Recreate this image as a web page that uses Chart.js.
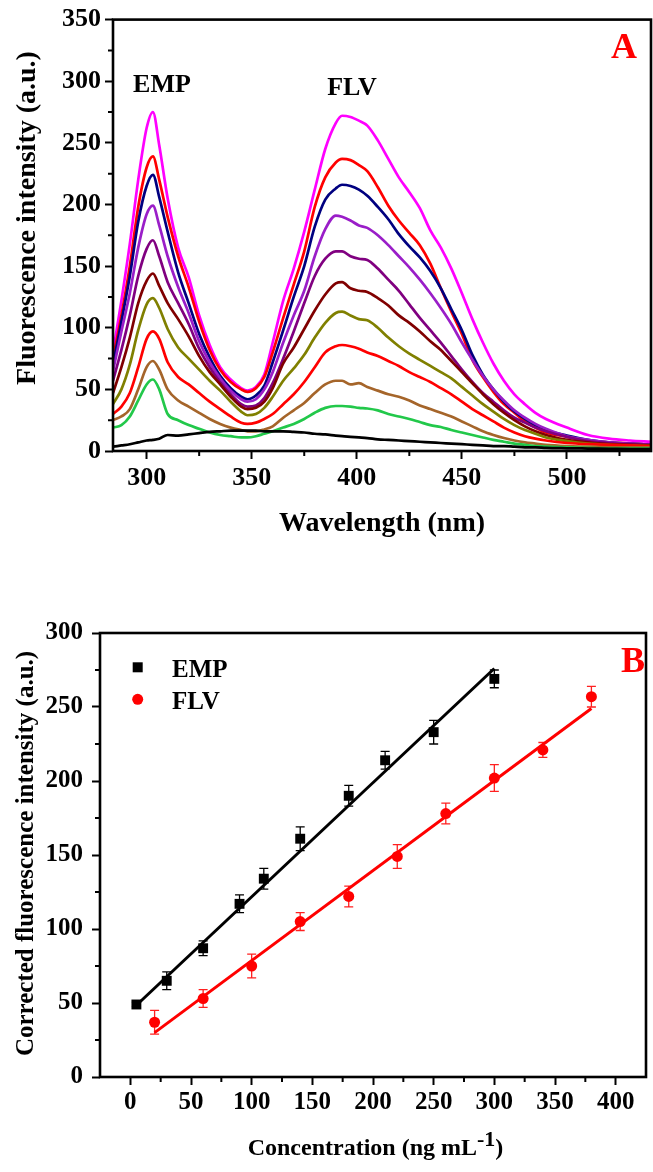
<!DOCTYPE html>
<html lang="en">
<head>
<meta charset="utf-8">
<title>EMP / FLV fluorescence</title>
<script src="https://cdn.jsdelivr.net/npm/chart.js@4.4.1/dist/chart.umd.min.js"></script>
<style>
  html, body { margin: 0; padding: 0; background: #ffffff; }
  body { position: relative; width: 653px; height: 1172px; overflow: hidden; }
  canvas { position: absolute; left: 0; }
  #spectraChart { top: 0; }
  #calibChart { top: 585px; }
</style>
</head>
<body>
<canvas id="spectraChart" width="653" height="560"></canvas>
<canvas id="calibChart" width="653" height="587"></canvas>
<script>
// ---- panel A: emission spectra ----
const wavelengths = [284, 288, 292, 296, 300, 303, 306, 310, 315, 320, 325, 330, 335, 340, 345, 348, 352, 356, 360, 365, 370, 375, 380, 385, 390, 393, 397, 401, 405, 410, 415, 420, 425, 430, 435, 440, 445, 450, 455, 460, 465, 470, 475, 480, 485, 490, 500, 510, 520, 530, 540];

const spectrumBlank = [3.5, 4.5, 5.5, 7, 8.5, 9, 10, 13, 12.5, 13.5, 14.5, 15.5, 16, 16.5, 16.5, 16.5, 16.5, 16, 16, 16, 15.5, 15, 14, 13.5, 12.5, 12, 11.5, 11, 10.5, 9.5, 9, 8.5, 8, 7.5, 7, 6.5, 6, 5.5, 5, 4.5, 4, 4, 3.5, 3, 3, 2.5, 2.2, 2, 1.8, 1.6, 1.5];
const spectrum1 = [19, 21, 28, 41, 54, 58, 50, 30, 25, 21, 18, 15, 13, 12, 11, 11, 12, 14, 16, 19, 22, 26, 31, 35, 36.5, 36.5, 36, 35, 34.5, 33, 30, 28, 26, 23.5, 21, 19.5, 17, 15, 13, 11, 9, 7.5, 6, 5, 4, 3.5, 3, 2.5, 2, 2, 2];
const spectrum2 = [25, 28, 34, 50, 68, 73, 66, 50, 41, 36, 31, 26, 22, 19, 17, 16, 16, 17.5, 20, 27, 33, 39, 47, 54, 57, 57, 54, 55, 52, 49, 46, 44, 41, 37, 34, 31, 28, 24, 20, 16, 13, 10.5, 8.5, 7, 6, 5, 4, 3.5, 3, 3, 3];
const spectrum3 = [30, 36, 47, 68, 91, 97, 91, 72, 60, 54, 47, 40, 34, 28, 23, 22, 23, 26, 30, 38, 46, 56, 68, 80, 85, 86, 85, 83, 80, 77, 73, 69, 64, 60, 56, 51, 46, 40, 34, 29, 24, 19, 15, 12, 10, 8.5, 6.5, 5.5, 5, 4.5, 4];
const spectrum4 = [38, 50, 70, 98, 119, 124, 116, 99, 84, 75, 66, 57, 49, 40, 32, 29, 30, 35, 44, 57, 67, 78, 92, 104, 112, 113, 110, 107, 106, 100, 92, 85, 79, 74, 69, 64, 59, 52, 45, 38, 32, 26, 21, 17, 14, 11, 8, 6, 5, 4.5, 4];
const spectrum5 = [47, 68, 92, 120, 138, 144, 134, 120, 107, 93, 77, 64, 54, 44, 36, 34, 35, 40, 51, 71, 84, 99, 114, 127, 136, 137, 132, 130, 129, 124, 118, 110, 104, 97, 89, 82, 73, 64, 55, 46, 38, 31, 25, 20, 16, 13, 9, 7, 5.5, 5, 4.5];
const spectrum6 = [57, 82, 110, 142, 164, 171, 158, 137, 120, 103, 83, 68, 56, 46, 38, 36, 37, 43, 55, 75, 97, 120, 142, 156, 162, 162, 158, 156, 155, 148, 139, 130, 119, 108, 98, 88, 77, 66, 56, 47, 40, 33, 27, 23, 19, 16, 11.5, 8, 6.5, 5.5, 5];
const spectrum7 = [65, 97, 128, 165, 192, 199, 183, 158, 133, 112, 89, 72, 59, 49, 42, 40, 42, 50, 64, 88, 110, 130, 158, 180, 191, 190, 187, 183, 181, 175, 167, 158, 149, 139, 128, 116, 103, 88, 74, 61, 50, 41, 33, 27, 22, 18, 12, 9, 7, 6, 5];
const spectrum8 = [70, 105, 142, 186, 215, 224, 206, 178, 145, 120, 95, 76, 61, 51, 44, 42, 45, 53, 72, 98, 125, 150, 182, 204, 213, 216, 215, 212, 207, 198, 188, 176, 166, 157, 146, 132, 115, 98, 78, 62, 50, 40, 32, 26, 21, 17, 12.5, 9, 7, 6, 5];
const spectrum9 = [75, 110, 150, 198, 230, 239, 220, 190, 158, 133, 105, 82, 66, 56, 50, 48, 51, 60, 80, 108, 135, 162, 198, 222, 234, 237, 236, 232, 227, 214, 199, 187, 177, 167, 152, 132, 113, 95, 74, 60, 48, 38, 31, 24, 19, 15, 11.5, 8.5, 7, 6, 5];
const spectrum10 = [80, 122, 168, 220, 262, 275, 248, 205, 165, 141, 110, 86, 68, 58, 51, 49, 52, 62, 88, 122, 148, 178, 212, 245, 266, 272, 271, 268, 264, 252, 237, 222, 210, 197, 179, 165, 148, 128, 107, 88, 71, 57, 46, 38, 31, 26, 19, 13, 10, 8.5, 7.5];

const spectra = [spectrumBlank, spectrum1, spectrum2, spectrum3, spectrum4, spectrum5, spectrum6, spectrum7, spectrum8, spectrum9, spectrum10];
const spectraColors = ["#000000", "#22c84a", "#a5652a", "#ff0000", "#808000", "#800000", "#800080", "#9a1ec8", "#000080", "#ff0000", "#ff00ff"];

const waveTicks = [300, 325, 350, 375, 400, 425, 450, 475, 500, 525];
const intensityTicks = [0, 25, 50, 75, 100, 125, 150, 175, 200, 225, 250, 275, 300, 325, 350];

// ---- panel B: calibration ----
const empConc = [5, 30, 60, 90, 110, 140, 180, 210, 250, 300];
const empSignal = [49, 65, 87, 117, 134, 161, 190, 214, 233, 269];
const empError = [1.5, 6, 5, 6, 7, 8, 7, 6, 8, 6];
const flvConc = [20, 60, 100, 140, 180, 220, 260, 300, 340, 380];
const flvSignal = [37, 53, 75, 105, 122, 149, 178, 202, 221, 257];
const flvError = [8, 6, 8, 6, 7, 8, 7, 9, 5, 7];
const empFitConc = [5, 300];
const empFitSignal = [48.5, 276];
const flvFitConc = [20, 380];
const flvFitSignal = [30, 249];

const concTicks = [0, 25, 50, 75, 100, 125, 150, 175, 200, 225, 250, 275, 300, 325, 350, 375, 400];
const signalTicks = [0, 25, 50, 75, 100, 125, 150, 175, 200, 225, 250, 275, 300];

const serif = "'Liberation Serif', 'Times New Roman', Times, serif";

function pairs(xs, ys) {
  return xs.map((x, i) => ({ x, y: ys[i] }));
}

function buildAxis(min, max, tickValues, fontSize, pad, afterFit) {
  return {
    type: "linear",
    min,
    max,
    afterBuildTicks: (scale) => {
      scale.ticks = tickValues.map((value) => ({ value }));
    },
    afterFit,
    border: { display: false },
    grid: {
      drawOnChartArea: false,
      tickLength: 8,
      tickWidth: 2,
      tickColor: (ctx) => (ctx.tick && ctx.tick.value % 50 === 0 ? "#000" : "rgba(0,0,0,0)"),
    },
    ticks: {
      autoSkip: false,
      maxRotation: 0,
      padding: pad,
      color: "#000",
      font: { family: serif, size: fontSize, weight: "bold" },
      callback: (value) => (value % 50 === 0 ? value : ""),
    },
  };
}

function drawText(ctx, text, x, y, size, color, align) {
  ctx.font = `bold ${size}px ${serif}`;
  ctx.fillStyle = color || "#000";
  ctx.textAlign = align || "center";
  ctx.textBaseline = "alphabetic";
  ctx.fillText(text, x, y);
}

function drawRotated(ctx, text, x, y, size) {
  ctx.save();
  ctx.translate(x, y);
  ctx.rotate(-Math.PI / 2);
  drawText(ctx, text, 0, 0, size);
  ctx.restore();
}

// minor ticks (shorter) plus the closed frame
const frameTicks = {
  id: "frameTicks",
  afterDraw(chart) {
    const { ctx, chartArea: area, scales } = chart;
    ctx.save();
    ctx.strokeStyle = "#000";
    ctx.lineWidth = 2;
    ctx.beginPath();
    scales.x.ticks.forEach((t) => {
      if (t.value % 50 === 0) return;
      const px = scales.x.getPixelForValue(t.value);
      ctx.moveTo(px, area.bottom);
      ctx.lineTo(px, area.bottom + 5);
    });
    scales.y.ticks.forEach((t) => {
      if (t.value % 50 === 0) return;
      const py = scales.y.getPixelForValue(t.value);
      ctx.moveTo(area.left - 5, py);
      ctx.lineTo(area.left, py);
    });
    ctx.stroke();
    ctx.lineWidth = 2.6;
    ctx.strokeRect(area.left, area.top, area.right - area.left, area.bottom - area.top);
    ctx.restore();
  },
};

const spectraText = {
  id: "spectraText",
  afterDraw(chart) {
    const ctx = chart.ctx;
    ctx.save();
    drawText(ctx, "EMP", 162, 92, 26);
    drawText(ctx, "FLV", 352, 95, 26);
    drawText(ctx, "A", 624, 58, 36, "#ff0000");
    drawText(ctx, "Wavelength (nm)", 382, 531, 28);
    drawRotated(ctx, "Fluorescence intensity (a.u.)", 35, 218, 28);
    ctx.restore();
  },
};

function drawErrorBars(chart, xs, ys, errs, color) {
  const { ctx, scales } = chart;
  ctx.save();
  ctx.strokeStyle = color;
  ctx.lineWidth = 1.3;
  ctx.beginPath();
  xs.forEach((x, i) => {
    const px = scales.x.getPixelForValue(x);
    const top = scales.y.getPixelForValue(ys[i] + errs[i]);
    const bottom = scales.y.getPixelForValue(ys[i] - errs[i]);
    ctx.moveTo(px, top);
    ctx.lineTo(px, bottom);
    ctx.moveTo(px - 4.5, top);
    ctx.lineTo(px + 4.5, top);
    ctx.moveTo(px - 4.5, bottom);
    ctx.lineTo(px + 4.5, bottom);
  });
  ctx.stroke();
  ctx.restore();
}

const calibExtras = {
  id: "calibExtras",
  beforeDatasetsDraw(chart) {
    drawErrorBars(chart, empConc, empSignal, empError, "#000000");
    drawErrorBars(chart, flvConc, flvSignal, flvError, "#ff2020");
  },
  afterDraw(chart) {
    const ctx = chart.ctx;
    ctx.save();
    // legend
    ctx.fillStyle = "#000";
    ctx.fillRect(132.7, 77.3, 10, 10);
    ctx.fillStyle = "#ff0000";
    ctx.beginPath();
    ctx.arc(137.7, 114.3, 5.5, 0, Math.PI * 2);
    ctx.fill();
    drawText(ctx, "EMP", 172, 92, 25, "#000", "left");
    drawText(ctx, "FLV", 172, 124, 25, "#000", "left");
    drawText(ctx, "B", 633, 86.7, 36, "#ff0000");
    // axis titles
    drawRotated(ctx, "Corrected fluorescence intensity (a.u.)", 33, 268.5, 25);
    ctx.font = `bold 24px ${serif}`;
    const main = "Concentration (ng mL";
    const mainW = ctx.measureText(main).width;
    const closeW = ctx.measureText(")").width;
    ctx.font = `bold 22px ${serif}`;
    const supW = ctx.measureText("-1").width;
    let x = 375.5 - (mainW + supW + closeW) / 2;
    drawText(ctx, main, x, 570, 24, "#000", "left");
    x += mainW;
    drawText(ctx, "-1", x, 561, 22, "#000", "left");
    x += supW;
    drawText(ctx, ")", x, 570, 24, "#000", "left");
    ctx.restore();
  },
};

new Chart(document.getElementById("spectraChart"), {
  type: "line",
  data: {
    datasets: spectra.map((values, i) => ({
      data: pairs(wavelengths, values),
      borderColor: spectraColors[i],
      borderWidth: 2.7,
      pointRadius: 0,
      fill: false,
      cubicInterpolationMode: "monotone",
    })),
  },
  options: {
    responsive: false,
    animation: false,
    layout: { padding: { top: 19, right: 2, left: 0, bottom: 0 } },
    plugins: { legend: { display: false }, tooltip: { enabled: false } },
    scales: {
      x: buildAxis(284, 540, waveTicks, 26, 4, (s) => { s.height = 109; }),
      y: buildAxis(0, 350, intensityTicks, 26, 4, (s) => { s.width = 113; }),
    },
  },
  plugins: [frameTicks, spectraText],
});

new Chart(document.getElementById("calibChart"), {
  type: "scatter",
  data: {
    datasets: [
      {
        label: "EMP",
        data: pairs(empConc, empSignal),
        pointStyle: "rect",
        pointRadius: 7,
        backgroundColor: "#000000",
        borderColor: "#000000",
        borderWidth: 0,
        order: 0,
      },
      {
        label: "FLV",
        data: pairs(flvConc, flvSignal),
        pointStyle: "circle",
        pointRadius: 5.5,
        backgroundColor: "#ff0000",
        borderColor: "#ff0000",
        borderWidth: 0,
        order: 0,
      },
      {
        label: "EMP fit",
        data: pairs(empFitConc, empFitSignal),
        showLine: true,
        borderColor: "#000000",
        borderWidth: 3,
        pointRadius: 0,
        order: 1,
      },
      {
        label: "FLV fit",
        data: pairs(flvFitConc, flvFitSignal),
        showLine: true,
        borderColor: "#ff0000",
        borderWidth: 3,
        pointRadius: 0,
        order: 1,
      },
    ],
  },
  options: {
    responsive: false,
    animation: false,
    layout: { padding: { top: 48, right: 2, left: 0, bottom: 0 } },
    plugins: { legend: { display: false }, tooltip: { enabled: false } },
    scales: {
      x: buildAxis(-25, 425, concTicks, 25, 3, (s) => { s.height = 95; }),
      y: buildAxis(0, 300, signalTicks, 25, 9, (s) => { s.width = 100; }),
    },
  },
  plugins: [frameTicks, calibExtras],
});
</script>
</body>
</html>
